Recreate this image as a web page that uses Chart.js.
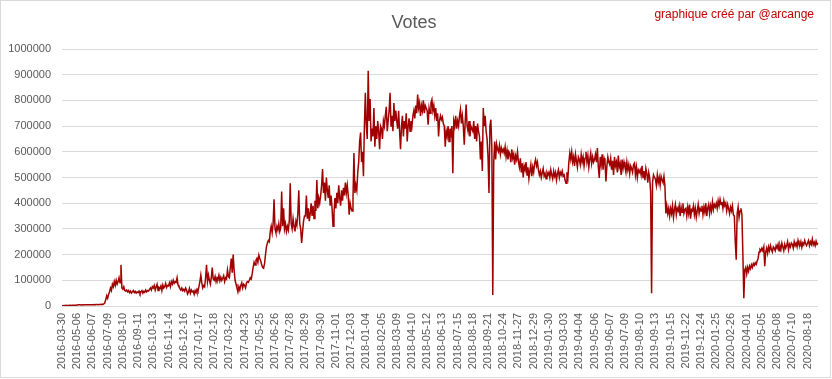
<!DOCTYPE html>
<html>
<head>
<meta charset="utf-8">
<script src="https://cdn.jsdelivr.net/npm/chart.js@4/dist/chart.umd.min.js"></script>
<style>
html,body{margin:0;padding:0;background:#fff;}
canvas{display:block;}
</style>
</head>
<body>
<canvas id="c" width="832" height="379"></canvas>
<script>
const chartTitle = "Votes";
const creditText = "graphique créé par @arcange";

const tickLabels = [
"2016-03-30","2016-05-06","2016-06-07","2016-07-09","2016-08-10","2016-09-11","2016-10-13","2016-11-14","2016-12-16",
"2017-01-17","2017-02-18","2017-03-22","2017-04-23","2017-05-25","2017-06-26","2017-07-28","2017-08-29","2017-09-30",
"2017-11-01","2017-12-03","2018-01-04","2018-02-05","2018-03-09","2018-04-10","2018-05-12","2018-06-13","2018-07-15",
"2018-08-18","2018-09-21","2018-10-24","2018-11-27","2018-12-29","2019-01-30","2019-03-03","2019-04-04","2019-05-06",
"2019-06-07","2019-07-09","2019-08-10","2019-09-13","2019-10-15","2019-11-22","2019-12-24","2020-01-25","2020-02-26",
"2020-04-01","2020-05-05","2020-06-08","2020-07-10","2020-08-18"
];

// one sample every two days; 16 samples between consecutive tick labels
const votes = [
1000,1500,2000,1500,2000,2500,1500,2000,2500,3000,2000,2500,3000,2500,3000,3000,
4000,5000,5000,4500,4000,4500,5000,4000,4500,5000,4500,5000,5000,4500,5000,5000,
5000,5000,6000,5000,6000,6000,5000,6000,6000,6000,7000,6000,8000,12000,25000,40000,
30000,45000,55000,70000,60000,85000,75000,95000,80000,100000,85000,95000,110000,90000,160000,70000,
65000,75000,60000,58000,62000,55000,60000,52000,58000,50000,55000,60000,52000,57000,50000,55000,
52000,58000,48000,55000,60000,50000,57000,53000,62000,55000,60000,58000,65000,70000,62000,75000,
70000,80000,62000,75000,85000,60000,72000,68000,78000,60000,82000,70000,75000,88000,72000,80000,
78000,90000,75000,95000,85000,100000,88000,95000,92000,110000,82000,75000,68000,62000,70000,60000,
65000,58000,70000,62000,47000,55000,68000,50000,62000,55000,58000,45000,60000,52000,65000,58000,
75000,95000,120000,90000,70000,80000,75000,110000,160000,95000,120000,100000,85000,110000,150000,105000,
100000,115000,95000,110000,105000,120000,98000,112000,100000,108000,118000,95000,110000,105000,140000,115000,
110000,150000,185000,130000,200000,140000,100000,85000,70000,55000,75000,62000,80000,90000,70000,85000,
80000,70000,90000,95000,92000,100000,110000,105000,125000,150000,170000,160000,178000,185000,170000,198000,
185000,175000,160000,150000,147000,165000,200000,230000,245000,255000,250000,290000,310000,285000,320000,415000,
300000,285000,310000,295000,320000,290000,305000,445000,310000,380000,300000,320000,290000,310000,295000,330000,
478000,320000,300000,340000,310000,290000,330000,315000,360000,450000,320000,300000,245000,290000,330000,350000,
350000,430000,340000,380000,330000,360000,400000,350000,390000,340000,410000,370000,490000,380000,420000,400000,
430000,470000,533000,440000,480000,410000,500000,450000,420000,470000,390000,430000,380000,310000,360000,420000,
380000,440000,400000,470000,420000,390000,450000,410000,460000,430000,480000,440000,470000,430000,355000,400000,
380000,370000,420000,595000,440000,470000,450000,520000,560000,640000,675000,560000,600000,505000,700000,830000,
700000,650000,915000,720000,805000,640000,690000,660000,770000,620000,700000,650000,720000,680000,610000,700000,
690000,650000,720000,700000,740000,775000,680000,720000,760000,830000,700000,740000,680000,790000,720000,760000,
720000,690000,760000,680000,610000,700000,740000,660000,720000,690000,750000,640000,700000,730000,680000,720000,
700000,740000,760000,730000,780000,750000,823000,770000,790000,740000,780000,760000,800000,750000,780000,770000,
760000,705000,770000,750000,790000,803000,760000,780000,740000,770000,720000,750000,660000,720000,740000,725000,
735000,710000,700000,620000,680000,660000,700000,640000,690000,670000,700000,517000,720000,700000,740000,690000,
720000,700000,740000,765000,710000,740000,700000,628000,720000,784000,700000,680000,720000,660000,700000,690000,
680000,720000,650000,700000,640000,710000,680000,660000,570000,640000,525000,770000,700000,740000,680000,650000,
580000,440000,700000,725000,620000,43000,560000,640000,570000,630000,610000,600000,625000,590000,615000,600000,
610000,595000,620000,580000,605000,570000,600000,590000,560000,610000,575000,590000,550000,585000,570000,600000,
560000,540000,575000,520000,555000,500000,545000,530000,560000,510000,540000,495000,525000,550000,505000,540000,
520000,555000,570000,545000,560000,530000,510000,525000,500000,520000,535000,505000,515000,495000,520000,510000,
520000,500000,530000,510000,495000,525000,505000,520000,490000,515000,530000,500000,520000,510000,525000,505000,
510000,490000,478000,520000,500000,560000,595000,570000,600000,560000,580000,545000,590000,565000,540000,580000,
570000,550000,590000,560000,580000,545000,575000,600000,560000,585000,540000,570000,595000,555000,580000,560000,
570000,590000,560000,615000,540000,498000,580000,550000,590000,530000,575000,560000,485000,545000,580000,560000,
550000,575000,530000,565000,510000,580000,545000,560000,520000,585000,540000,555000,510000,570000,535000,560000,
540000,520000,560000,530000,550000,515000,545000,535000,520000,550000,556000,510000,540000,500000,530000,520000,
530000,510000,545000,500000,525000,490000,535000,515000,480000,520000,500000,445000,50000,480000,510000,500000,
495000,470000,510000,480000,500000,470000,505000,490000,480000,505000,470000,360000,390000,360000,380000,350000,
380000,360000,390000,345000,375000,395000,355000,380000,370000,390000,350000,385000,365000,400000,360000,375000,
380000,350000,385000,360000,395000,340000,375000,370000,390000,355000,380000,345000,370000,395000,360000,380000,
370000,390000,355000,385000,365000,400000,350000,380000,395000,360000,390000,370000,405000,375000,395000,385000,
400000,380000,410000,390000,415000,395000,405000,380000,410000,390000,400000,370000,395000,380000,360000,385000,
370000,390000,355000,350000,250000,180000,360000,385000,345000,370000,380000,355000,200000,30000,140000,150000,
125000,150000,135000,155000,145000,160000,150000,165000,158000,168000,162000,175000,185000,210000,220000,215000,
225000,215000,230000,155000,210000,225000,205000,230000,215000,235000,220000,210000,230000,225000,215000,235000,
225000,240000,215000,235000,220000,245000,230000,215000,240000,225000,235000,250000,220000,240000,230000,245000,
240000,225000,250000,235000,245000,230000,255000,240000,235000,250000,228000,245000,238000,255000,242000,235000,
245000,255000,235000,250000,240000,260000,238000,248000,235000,252000,240000,245000
];

const TICK_EVERY = 16;
const categories = votes.map((v, i) => (i % TICK_EVERY === 0 && tickLabels[i / TICK_EVERY]) ? tickLabels[i / TICK_EVERY] : "");

const FONT = "'Liberation Sans', Arial, sans-serif";

const decorPlugin = {
  id: 'decor',
  beforeDraw(chart) {
    const ctx = chart.ctx;
    ctx.save();
    ctx.fillStyle = '#ffffff';
    ctx.fillRect(0, 0, chart.width, chart.height);
    ctx.restore();
  },
  afterDraw(chart) {
    const ctx = chart.ctx;
    ctx.save();
    ctx.strokeStyle = '#d9d9d9';
    ctx.lineWidth = 1;
    ctx.strokeRect(0.5, 0.5, 830, 377);
    ctx.fillStyle = '#595959';
    ctx.font = "18px " + FONT;
    ctx.textAlign = 'center';
    ctx.textBaseline = 'middle';
    ctx.fillText(chartTitle, 414, 23);
    ctx.fillStyle = '#c00000';
    ctx.font = "12px " + FONT;
    ctx.textAlign = 'right';
    ctx.fillText(creditText, 814, 15);
    ctx.restore();
  }
};

new Chart(document.getElementById('c'), {
  type: 'line',
  data: {
    labels: categories,
    datasets: [{
      label: chartTitle,
      data: votes,
      borderColor: '#a00000',
      borderWidth: 1.5,
      pointRadius: 0,
      pointHoverRadius: 0,
      tension: 0,
      fill: false
    }]
  },
  options: {
    responsive: false,
    animation: false,
    devicePixelRatio: 1,
    layout: { padding: { top: 49, right: 14, left: 0, bottom: 0 } },
    plugins: {
      legend: { display: false },
      title: { display: false },
      tooltip: { enabled: false }
    },
    scales: {
      x: {
        type: 'category',
        offset: false,
        grid: { display: false, drawTicks: false },
        border: { display: false },
        ticks: {
          autoSkip: false,
          minRotation: 90,
          maxRotation: 90,
          padding: 7,
          color: '#595959',
          font: { family: FONT, size: 11 },
          callback: function(value, index) {
            return categories[index] === "" ? null : categories[index];
          }
        },
        afterFit(scale) { scale.height = 73; }
      },
      y: {
        min: 0,
        max: 1000000,
        grid: { color: '#d9d9d9', lineWidth: 1, drawTicks: false },
        border: { display: false },
        ticks: {
          stepSize: 100000,
          padding: 11,
          color: '#595959',
          font: { family: FONT, size: 11 },
          callback: v => String(v)
        },
        afterFit(scale) { scale.width = 62; }
      }
    }
  },
  plugins: [decorPlugin]
});
</script>
</body>
</html>
